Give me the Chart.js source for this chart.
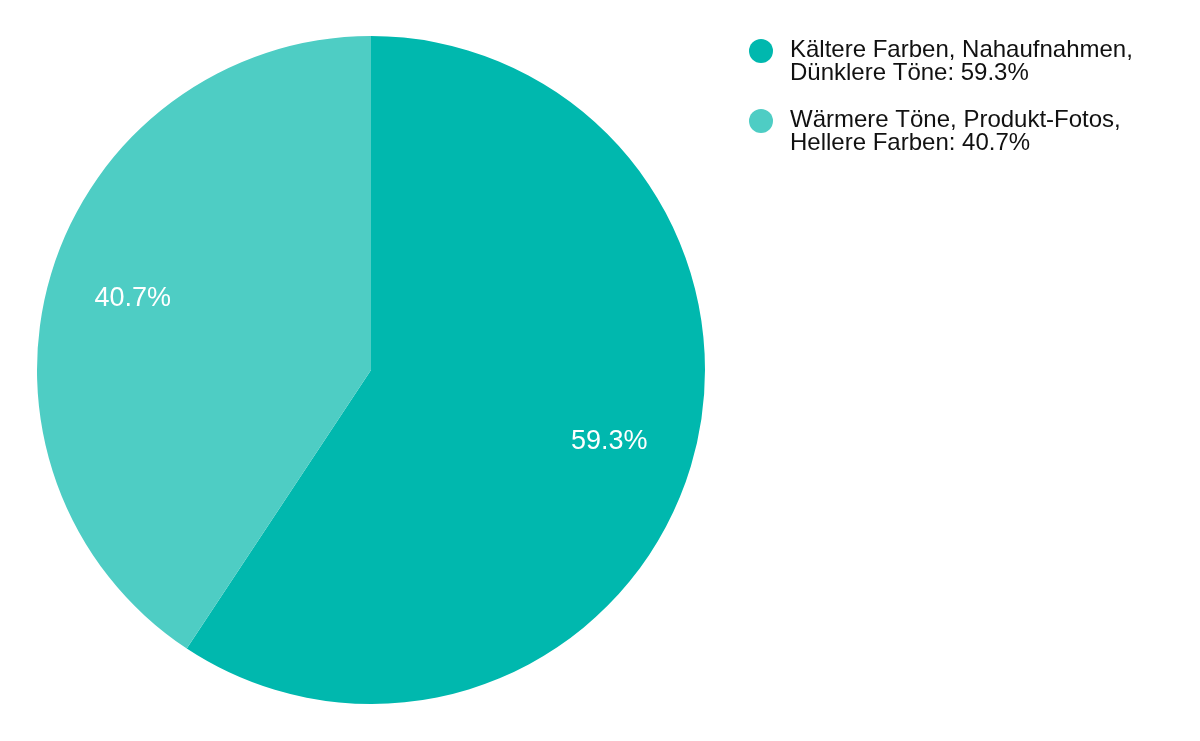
<!DOCTYPE html>
<html>
<head>
<meta charset="utf-8">
<script src="https://cdn.jsdelivr.net/npm/chart.js@4"></script>
<style>
  html, body { margin: 0; padding: 0; background: #fff; }
  #wrap { position: relative; width: 1200px; height: 741px; }
</style>
</head>
<body>
<div id="wrap"><canvas id="pie"></canvas></div>
<script>
// data
var categories = [
    ['Kältere Farben, Nahaufnahmen,', 'Dünklere Töne'],
    ['Wärmere Töne, Produkt-Fotos,', 'Hellere Farben']
];
var values = [59.3, 40.7];
var colors = ['#00b8ae', '#4ecdc4'];

var FONT = '"Liberation Sans", Arial, Helvetica, sans-serif';

function pct(v){ return v.toFixed(1) + '%'; }

// percent labels inside slices
var sliceLabels = {
    id: 'sliceLabels',
    afterDatasetsDraw: function(chart){
        var ctx = chart.ctx;
        var meta = chart.getDatasetMeta(0);
        ctx.save();
        ctx.fillStyle = '#fff';
        ctx.font = '27px ' + FONT;
        ctx.textAlign = 'center';
        ctx.textBaseline = 'middle';
        meta.data.forEach(function(arc, i){
            var p = arc.getProps(['x', 'y', 'startAngle', 'endAngle', 'outerRadius']);
            var mid = (p.startAngle + p.endAngle) / 2;
            var r = p.outerRadius * 0.745;
            ctx.fillText(pct(values[i]), p.x + Math.cos(mid) * r, p.y + Math.sin(mid) * r);
        });
        ctx.restore();
    }
};

// legend on the right, two lines per entry
var sideLegend = {
    id: 'sideLegend',
    afterDraw: function(chart){
        var ctx = chart.ctx;
        var x0 = 761, tx = 790, top = 57, step = 70, lh = 23;
        ctx.save();
        ctx.font = '24px ' + FONT;
        ctx.textAlign = 'left';
        ctx.textBaseline = 'alphabetic';
        categories.forEach(function(lines, i){
            var y = top + i * step;
            ctx.fillStyle = colors[i];
            ctx.beginPath();
            ctx.arc(x0, y - 6, 12, 0, Math.PI * 2);
            ctx.fill();
            ctx.fillStyle = '#111';
            lines.forEach(function(line, j){
                var t = j == lines.length - 1 ? line + ': ' + pct(values[i]) : line;
                ctx.fillText(t, tx, y + j * lh);
            });
        });
        ctx.restore();
    }
};

var chart = new Chart(document.getElementById('pie'), {
    type: 'pie',
    data: {
        labels: categories.map(function(c){ return c.join(' '); }),
        datasets: [{
            data: values,
            backgroundColor: colors,
            borderWidth: 0
        }]
    },
    options: {
        responsive: true,
        maintainAspectRatio: false,
        animation: false,
        layout: { padding: { left: 37, right: 495, top: 36, bottom: 37 } },
        plugins: {
            legend: { display: false },
            tooltip: { enabled: false }
        }
    },
    plugins: [sliceLabels, sideLegend]
});
</script>
</body>
</html>
